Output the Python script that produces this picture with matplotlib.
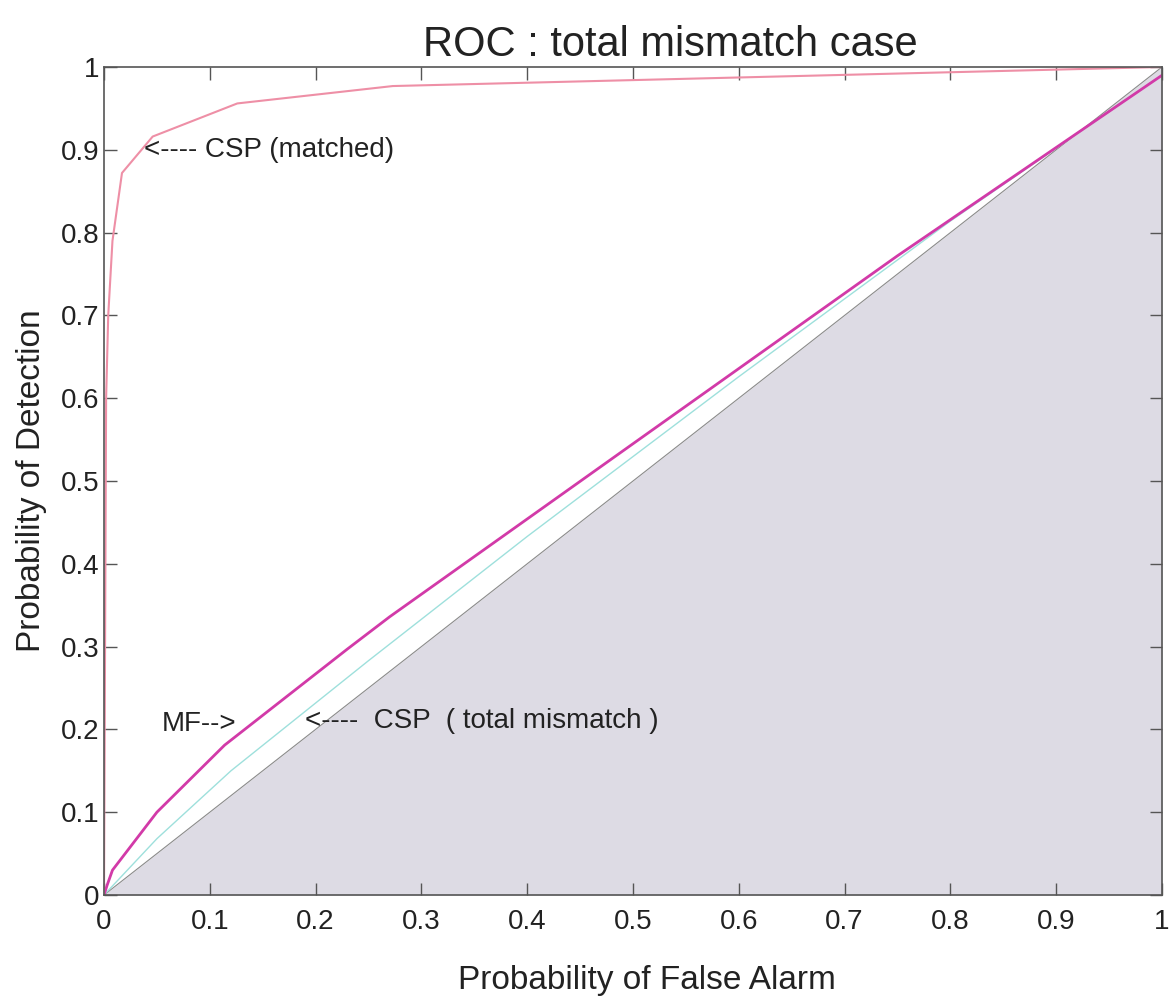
import matplotlib
matplotlib.use("Agg")
import matplotlib.pyplot as plt
import numpy as np

plt.rcParams['font.family'] = ['Liberation Sans', 'DejaVu Sans']

# CSP matched
pf_csp = [0.0, 0.001, 0.002, 0.004, 0.008, 0.017, 0.046, 0.126, 0.273, 1.0]
pd_csp = [0.0, 0.3, 0.6, 0.7, 0.79, 0.872, 0.916, 0.956, 0.977, 1.0]

# matched filter
pf_mf = [0.0, 0.003, 0.008, 0.05, 0.114, 0.23, 0.27, 0.5, 0.75, 1.0]
pd_mf = [0.0, 0.012, 0.03, 0.1, 0.181, 0.297, 0.336, 0.545, 0.772, 0.99]

# CSP total mismatch
pf_mis = [0.0, 0.05, 0.12, 0.25, 0.4, 0.6, 0.8, 1.0]
pd_mis = [0.0, 0.068, 0.15, 0.283, 0.433, 0.626, 0.814, 0.99]

diag = [0.0, 1.0]
tick_labels = ["0", "0.1", "0.2", "0.3", "0.4", "0.5", "0.6", "0.7", "0.8", "0.9", "1"]

fig = plt.figure(figsize=(11.71, 10.01), dpi=100)
ax = fig.add_axes([104/1171, 1-895/1001, 1058/1171, 828/1001])

ax.fill_between(diag, [0, 0], diag, color="#dddbe4", lw=0)
ax.plot(diag, diag, color="#8a8a8a", lw=0.8)
ax.plot(pf_mis, pd_mis, color="#9ee0dc", lw=1.0)
ax.plot(pf_mf, pd_mf, color="#d23aa8", lw=2.0)
ax.plot(pf_csp, pd_csp, color="#ee8fa6", lw=1.5)

ax.set_xlim(0, 1)
ax.set_ylim(0, 1)
ticks = np.arange(0, 1.01, 0.1)
ax.set_xticks(ticks)
ax.set_yticks(ticks)
ax.set_xticklabels(tick_labels)
ax.set_yticklabels(tick_labels)
ax.tick_params(direction="in", length=9, width=1, labelsize=20, top=True, right=True,
               colors="#555555", labelcolor="#222222")
ax.tick_params(axis="x", pad=10)
ax.tick_params(axis="y", pad=3)
for s in ax.spines.values():
    s.set_color("#555555")
    s.set_linewidth(1.2)

ax.set_xlabel("Probability of False Alarm", fontsize=24, color="#222222")
ax.xaxis.set_label_coords(0.513, -0.085)
ax.set_ylabel("Probability of Detection", fontsize=24, color="#222222", labelpad=10)
ax.set_title("ROC : total mismatch case", fontsize=30, color="#222222", pad=8, x=0.535)

ax.text(0.038, 0.9, "<---- CSP (matched)", fontsize=20, color="#222222", va="center")
ax.text(0.055, 0.207, "MF-->", fontsize=20, color="#222222", va="center")
ax.text(0.19, 0.21, "<----  CSP  ( total mismatch )", fontsize=20, color="#222222", va="center")

fig.savefig("out.png", dpi=100)
